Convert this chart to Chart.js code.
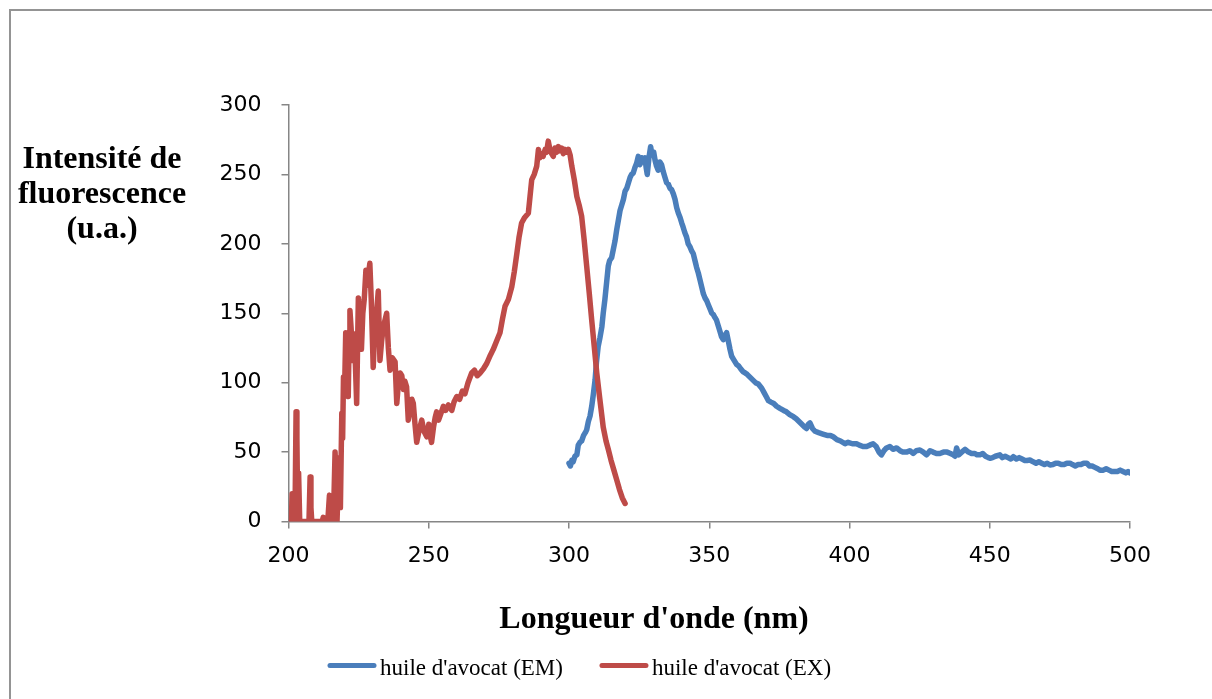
<!DOCTYPE html>
<html>
<head>
<meta charset="utf-8">
<title>Fluorescence huile d'avocat</title>
<script src="https://cdn.jsdelivr.net/npm/chart.js@4/dist/chart.umd.min.js"></script>
<style>
	html, body { margin: 0; padding: 0; background: #fff; overflow: hidden; }
	#frame { position: absolute; left: 9px; top: 9px; width: 1400px; height: 900px; border-left: 2px solid #949494; border-top: 2px solid #949494; }
	#chart { position: absolute; left: 0; top: 0; }
</style>
</head>
<body>
<div id="frame"></div>
<canvas id="chart" width="1212" height="699"></canvas>
<script>
// excitation spectrum (EX)
const exWavelength = [
	201.0, 201.3, 201.6, 202.0, 202.3, 202.7, 203.0, 203.3, 203.6, 204.0, 205.0, 206.0, 207.3, 207.7, 208.0, 208.3,
	209.0, 210.0, 211.0, 212.0, 212.4, 213.0, 214.0, 214.6, 215.0, 215.5, 216.0, 216.6, 217.0, 217.3, 218.0, 218.5,
	219.0, 219.3, 219.6, 220.0, 220.4, 220.8, 221.3, 221.6, 221.9, 222.3, 222.9, 223.5, 224.3, 224.9, 225.4, 226.0,
	226.5, 227.0, 227.6, 228.0, 228.5, 229.0, 229.5, 230.2, 230.8, 231.4, 232.0, 232.6, 233.2, 233.8, 234.4, 235.0,
	235.6, 236.2, 237.0, 238.0, 238.6, 239.2, 239.8, 240.4, 241.0, 241.5, 242.1, 242.7, 243.3, 244.0, 244.5, 245.1,
	245.7, 246.5, 247.5, 248.3, 249.3, 250.0, 250.5, 251.0, 251.7, 252.3, 252.8, 253.5, 254.2, 255.2, 256.0, 257.0,
	258.2, 259.0, 260.0, 261.0, 262.0, 262.9, 264.0, 265.3, 266.3, 267.3, 268.3, 269.5, 270.7, 272.0, 273.0, 274.2,
	275.4, 276.3, 277.2, 278.4, 279.6, 280.5, 281.4, 282.2, 283.1, 284.2, 285.5, 286.1, 286.7, 287.6, 288.5, 289.1,
	289.6, 290.2, 290.8, 291.5, 292.0, 292.6, 293.2, 293.8, 294.4, 295.0, 295.6, 296.2, 296.8, 297.4, 298.0, 298.6,
	299.2, 299.8, 300.4, 301.0, 301.9, 302.8, 303.6, 304.5, 305.4, 306.3, 307.2, 308.1, 309.0, 309.9, 311.0, 312.2,
	313.2, 314.0, 315.0, 316.0, 317.0, 318.0, 319.0, 320.0
];
const exIntensity = [
	0, 20, 0, 18, 0, 79, 60, 0, 35, 0, 0, 0, 0, 32, 10, 0,
	0, 0, 0, 0, 3, 0, 0, 19, 0, 10, 0, 50, 30, 0, 46, 10,
	78, 60, 104, 95, 136, 115, 90, 130, 152, 140, 116, 135, 85, 161, 140, 124,
	150, 160, 181, 170, 178, 186, 160, 111, 140, 150, 166, 116, 130, 140, 145, 150,
	125, 109, 118, 115, 85, 100, 107, 105, 95, 101, 97, 73, 80, 88, 85, 70,
	57, 65, 73, 65, 61, 70, 62, 57, 68, 75, 79, 73, 77, 83, 80, 84,
	80, 86, 90, 88, 94, 92, 100, 107, 109, 105, 107, 110, 114, 120, 124, 130,
	136, 146, 155, 160, 169, 180, 193, 205, 215, 219, 222, 234, 246, 250, 256, 268,
	262, 265, 263, 268, 266, 274, 268, 265, 263, 269, 266, 270, 267, 269, 265, 268,
	266, 268, 264, 256, 246, 234, 228, 220, 203, 184, 165, 145, 126, 107, 88, 68,
	58, 52, 44, 37, 30, 23, 17, 13
];

// emission spectrum (EM)
const emWavelength = [
	300.0, 300.5, 301.0, 301.5, 302.1, 302.8, 303.3, 303.9, 304.5, 305.2, 305.8, 306.3, 306.9, 307.5, 308.1, 308.7,
	309.3, 309.8, 310.4, 311.0, 311.7, 312.2, 312.8, 313.4, 314.0, 314.5, 315.2, 315.8, 316.4, 317.0, 317.6, 318.2,
	318.8, 319.4, 320.0, 320.6, 321.2, 321.8, 322.3, 322.9, 323.5, 324.1, 324.7, 325.3, 325.9, 326.5, 327.1, 327.5,
	327.9, 328.5, 329.1, 329.6, 330.2, 330.7, 331.2, 331.8, 332.4, 333.0, 333.6, 334.2, 334.8, 335.4, 336.0, 336.6,
	337.2, 337.8, 338.4, 339.0, 339.6, 340.2, 340.7, 341.3, 341.9, 342.5, 343.1, 343.7, 344.3, 344.9, 345.5, 346.1,
	346.7, 347.3, 347.9, 348.5, 349.1, 349.7, 350.3, 350.9, 351.5, 352.0, 352.6, 353.2, 353.8, 354.4, 355.0, 355.6,
	356.2, 356.8, 357.4, 358.0, 358.6, 359.2, 359.8, 360.5, 361.2, 362.0, 362.8, 363.5, 364.5, 365.5, 366.5, 367.5,
	368.7, 369.5, 370.3, 371.1, 372.0, 373.0, 374.0, 375.2, 376.5, 377.5, 378.7, 380.0, 381.0, 382.0, 383.0, 384.0,
	384.7, 385.3, 385.9, 386.8, 387.7, 389.0, 390.5, 392.0, 393.2, 394.2, 395.5, 396.8, 398.4, 399.5, 401.0, 402.5,
	403.5, 404.8, 406.1, 407.2, 408.4, 409.5, 410.5, 411.4, 412.3, 413.2, 414.4, 415.5, 416.8, 418.0, 419.0, 420.3,
	421.5, 422.7, 423.8, 425.1, 426.3, 427.5, 428.7, 429.8, 431.0, 432.2, 433.5, 434.8, 436.0, 437.0, 437.6, 438.2,
	438.9, 440.0, 441.2, 442.4, 443.5, 444.7, 445.5, 446.5, 447.5, 448.5, 449.5, 450.1, 451.0, 452.0, 453.6, 454.5,
	455.5, 456.5, 457.5, 458.4, 459.5, 460.5, 461.5, 462.5, 463.3, 464.3, 465.5, 466.5, 467.5, 468.5, 469.5, 470.5,
	471.5, 472.5, 473.5, 474.4, 475.5, 476.5, 477.5, 478.6, 479.5, 480.5, 481.5, 482.5, 483.5, 484.6, 485.5, 486.5,
	487.5, 488.5, 489.3, 490.5, 491.5, 492.5, 493.5, 494.1, 495.5, 496.5, 497.5, 498.5, 499.3, 500.0
];
const emIntensity = [
	42, 40, 44, 43, 47, 48, 55, 57, 58, 62, 64, 66, 72, 76, 83, 92,
	102, 115, 126, 132, 140, 150, 160, 172, 184, 188, 190, 196, 202, 210, 217, 224,
	228, 232, 238, 240, 244, 248, 250, 251, 255, 258, 263, 257, 262, 259, 262, 255,
	250, 262, 270, 264, 266, 260, 256, 253, 259, 257, 252, 248, 244, 243, 240, 239,
	236, 232, 226, 222, 219, 215, 212, 208, 205, 200, 198, 195, 193, 188, 183, 179,
	174, 169, 164, 161, 159, 156, 153, 150, 149, 147, 145, 141, 137, 133, 131, 134,
	136, 130, 124, 119, 117, 115, 113, 112, 110, 108, 107, 106, 104, 102, 100, 99,
	96, 93, 90, 87, 86, 85, 83, 81.5, 80, 79, 77, 75.5, 74, 72, 70, 68,
	67, 70, 71, 67, 65, 64, 63, 62, 62, 61, 59, 58, 56, 57, 56, 56,
	55, 54, 54, 55, 56, 54, 50, 48, 51, 53, 54, 52, 53, 51, 50, 50,
	51, 49, 51, 51.5, 50, 48, 51, 50, 49, 49, 50, 50, 49, 48, 47, 53,
	48, 50, 52, 50, 49, 49, 48, 48, 49, 47, 46, 45.5, 46, 47, 48, 46,
	47, 46, 45, 46.7, 45, 46, 45, 44, 44, 44.3, 43, 42, 43, 42, 41, 42,
	40.7, 41, 42, 42, 41, 41, 42, 42, 41, 40, 41, 41, 42, 42, 40, 40,
	39, 38, 37, 37, 38, 37, 36, 36, 36, 37, 36, 35, 36, 35
];

const seriesLabels = ["huile d'avocat (EM)", "huile d'avocat (EX)"];
const seriesColors = ["#4a7ebb", "#be4b48"];
const yTitleLines = ["Intensité de", "fluorescence", "(u.a.)"];
const xTitle = "Longueur d'onde (nm)";

const axisColor = "#868686";
const tickFont = { family: "DejaVu Sans", size: 22 };
const serif = "'Liberation Serif', 'Times New Roman', serif";

function toPoints (xs, ys) {
	return xs.map((x, i) => ({ x: x, y: ys[i] }));
}

// axis titles and legend are laid out by hand, Excel style
const decorations = {
	id: "decorations",
	afterDraw (chart) {
		const ctx = chart.ctx;
		ctx.save();
		ctx.fillStyle = "#000";
		ctx.textAlign = "center";
		ctx.textBaseline = "alphabetic";
		ctx.font = `bold 32px ${serif}`;
		yTitleLines.forEach((line, i) => {
			ctx.fillText(line, 102, 168 + i * 35);
		});
		ctx.fillText(xTitle, 654, 628);

		// legend
		ctx.font = `23px ${serif}`;
		ctx.textAlign = "left";
		ctx.lineCap = "round";
		ctx.lineWidth = 5;
		let x = 330;
		const y = 665.5;
		chart.data.datasets.slice().sort((a, b) => a.legendIndex - b.legendIndex).forEach((ds) => {
			ctx.strokeStyle = ds.borderColor;
			ctx.beginPath();
			ctx.moveTo(x, y);
			ctx.lineTo(x + 44, y);
			ctx.stroke();
			x += 50;
			ctx.fillText(ds.label, x, 675);
			x += ctx.measureText(ds.label).width + 39;
		});
		ctx.restore();
	}
};

new Chart(document.querySelector("#chart"), {
	type: "line",
	data: {
		datasets: [
			{
				label: seriesLabels[1],
				legendIndex: 1,
				data: toPoints(exWavelength, exIntensity),
				borderColor: seriesColors[1],
				borderWidth: 5.5,
				order: 1
			},
			{
				label: seriesLabels[0],
				legendIndex: 0,
				data: toPoints(emWavelength, emIntensity),
				borderColor: seriesColors[0],
				borderWidth: 5.5,
				order: 2
			}
		]
	},
	options: {
		responsive: false,
		animation: false,
		events: [],
		layout: {
			padding: { top: 105, right: 82, bottom: 0, left: 0 }
		},
		elements: {
			point: { radius: 0 },
			line: { tension: 0, borderJoinStyle: "round", borderCapStyle: "round" }
		},
		plugins: {
			legend: { display: false },
			tooltip: { enabled: false }
		},
		scales: {
			x: {
				type: "linear",
				min: 200,
				max: 500,
				afterFit: (scale) => { scale.height = 177.5; },
				ticks: { stepSize: 50, color: "#000", font: tickFont, padding: 15, maxRotation: 0 },
				grid: { display: true, drawOnChartArea: false, drawTicks: true, tickLength: 7, color: axisColor, lineWidth: 1.5 },
				border: { display: true, color: axisColor, width: 1.5 }
			},
			y: {
				type: "linear",
				min: 0,
				max: 300,
				afterFit: (scale) => { scale.width = 288.5; },
				ticks: { stepSize: 50, color: "#000", font: tickFont, padding: 20 },
				grid: { display: true, drawOnChartArea: false, drawTicks: true, tickLength: 7, color: axisColor, lineWidth: 1.5 },
				border: { display: true, color: axisColor, width: 1.5 }
			}
		}
	},
	plugins: [decorations]
});
</script>
</body>
</html>
